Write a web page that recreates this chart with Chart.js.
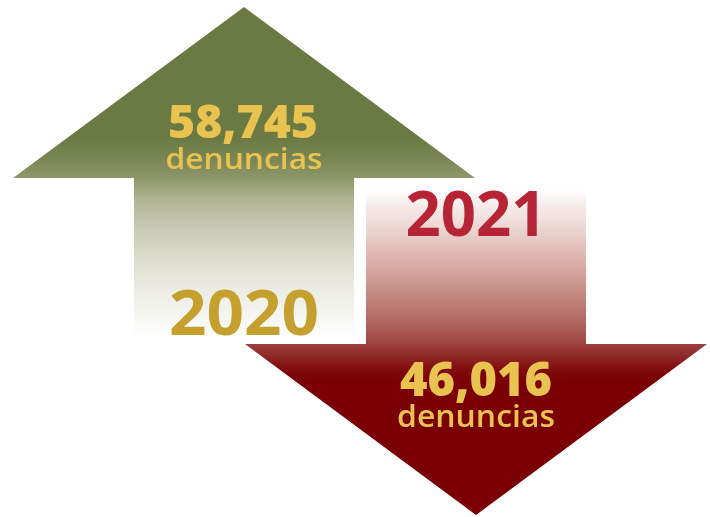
<!DOCTYPE html>
<html>
<head>
<meta charset="utf-8">
<script src="https://cdn.jsdelivr.net/npm/chart.js@4/dist/chart.umd.min.js"></script>
<style>
  html, body { margin: 0; padding: 0; background: #ffffff; }
  #wrap { width: 710px; height: 517px; }
</style>
</head>
<body>
<div id="wrap"><canvas id="c" width="710" height="517"></canvas></div>
<script>
// ---- data ----
const years = ['2020', '2021'];
const complaints = [58745, 46016];
const unitLabel = 'denuncias';
const directions = ['up', 'down'];

// ---- styling / layout (not data) ----
const yearColors = ['#c6a02e', '#b52535'];
const valueColor = '#e9c350';
const layout = {
  up:   { tip: 7,   headBase: 178, shaftEnd: 335, headRatio: 2.1 },
  down: { shaftStart: 190, headBase: 344, tip: 515, headRatio: 2.1 }
};

function fmt(n) { return n.toLocaleString('en-US'); }

function drawFitted(ctx, text, cx, baseline, font, targetW, color) {
  ctx.save();
  ctx.font = font;
  const w = ctx.measureText(text).width;
  const sx = targetW / w;
  ctx.translate(cx, baseline);
  ctx.scale(sx, 1);
  ctx.fillStyle = color;
  ctx.textAlign = 'center';
  ctx.textBaseline = 'alphabetic';
  ctx.fillText(text, 0, 0);
  ctx.restore();
}

const arrowPlugin = {
  id: 'arrows',
  beforeDatasetsDraw(chart) {
    const ctx = chart.ctx;
    const meta = chart.getDatasetMeta(0);
    meta.data.forEach((bar, i) => {
      const x = bar.x;
      const sh = bar.width / 2;
      ctx.save();
      if (directions[i] === 'up') {
        const L = layout.up;
        const hh = sh * L.headRatio;
        const g = ctx.createLinearGradient(0, L.tip, 0, L.shaftEnd);
        const span = L.shaftEnd - L.tip;
        const st = (y, c) => g.addColorStop(Math.min(1, Math.max(0, (y - L.tip) / span)), c);
        st(7, '#6a7a42'); st(138, '#6b7a43'); st(160, '#7a8755'); st(178, '#8d9669');
        st(200, '#b1b595'); st(230, '#c9cbb5'); st(260, '#dddece'); st(290, '#ecece4');
        st(320, '#f7f7f4'); st(335, '#ffffff');
        ctx.fillStyle = g;
        ctx.beginPath();
        ctx.moveTo(x, L.tip);
        ctx.lineTo(x + hh, L.headBase);
        ctx.lineTo(x + sh, L.headBase);
        ctx.lineTo(x + sh, L.shaftEnd);
        ctx.lineTo(x - sh, L.shaftEnd);
        ctx.lineTo(x - sh, L.headBase);
        ctx.lineTo(x - hh, L.headBase);
        ctx.closePath();
        ctx.fill();
      } else {
        const L = layout.down;
        const hh = sh * L.headRatio;
        const g = ctx.createLinearGradient(0, L.shaftStart, 0, L.tip);
        const span = L.tip - L.shaftStart;
        const st = (y, c) => g.addColorStop(Math.min(1, Math.max(0, (y - L.shaftStart) / span)), c);
        st(190, '#ffffff'); st(205, '#f6eceb'); st(230, '#ecd4d0'); st(260, '#dcb2ab');
        st(290, '#c78f86'); st(320, '#b16a63'); st(340, '#a14a45'); st(355, '#8f2b2a');
        st(370, '#800a0c'); st(382, '#7a0006'); st(515, '#7a0006');
        ctx.fillStyle = g;
        ctx.beginPath();
        ctx.moveTo(x - sh, L.shaftStart);
        ctx.lineTo(x + sh, L.shaftStart);
        ctx.lineTo(x + sh, L.headBase);
        ctx.lineTo(x + hh, L.headBase);
        ctx.lineTo(x, L.tip);
        ctx.lineTo(x - hh, L.headBase);
        ctx.lineTo(x - sh, L.headBase);
        ctx.closePath();
        ctx.fill();
      }
      ctx.restore();
    });
  },
  afterDatasetsDraw(chart) {
    const ctx = chart.ctx;
    const meta = chart.getDatasetMeta(0);
    meta.data.forEach((bar, i) => {
      const x = bar.x;
      const val = fmt(complaints[i]);
      if (directions[i] === 'up') {
        drawFitted(ctx, val, x - 1, 138, '800 46px "Open Sans"', 150, valueColor);
        drawFitted(ctx, unitLabel, x, 169, '600 29px "Open Sans"', 157, valueColor);
        drawFitted(ctx, years[i], x, 335, 'bold 63px "Open Sans"', 150, yearColors[i]);
      } else {
        drawFitted(ctx, years[i], x, 236, 'bold 62px "Open Sans"', 141, yearColors[i]);
        drawFitted(ctx, val, x, 396, '800 47px "Open Sans"', 152, valueColor);
        drawFitted(ctx, unitLabel, x, 427, '600 30px "Open Sans"', 158, valueColor);
      }
    });
  }
};

new Chart(document.getElementById('c'), {
  type: 'bar',
  data: {
    labels: years,
    datasets: [{
      label: unitLabel,
      data: complaints,
      backgroundColor: 'rgba(0,0,0,0)',
      borderWidth: 0,
      categoryPercentage: 1,
      barPercentage: 220 / 232
    }]
  },
  options: {
    responsive: false,
    animation: false,
    layout: { padding: { left: 128, right: 118, top: 0, bottom: 0 } },
    plugins: { legend: { display: false }, tooltip: { enabled: false } },
    scales: {
      x: { display: false, offset: true },
      y: { display: false, beginAtZero: true }
    }
  },
  plugins: [arrowPlugin]
});
</script>
</body>
</html>
